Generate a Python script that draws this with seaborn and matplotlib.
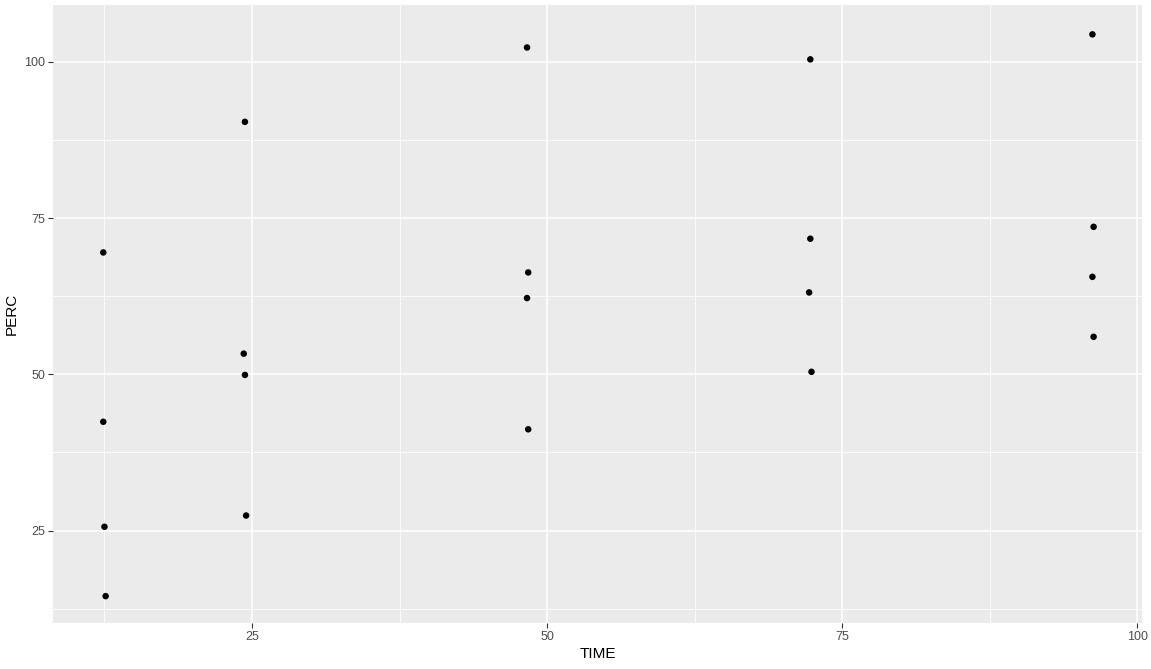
import numpy as np
import pandas as pd
import matplotlib
matplotlib.use("Agg")
import matplotlib.pyplot as plt
import seaborn as sns
from matplotlib.ticker import MultipleLocator

# values
time = [12.4, 12.4, 12.5, 12.6,
        24.4, 24.3, 24.4, 24.5,
        48.3, 48.4, 48.3, 48.4,
        72.3, 72.3, 72.2, 72.4,
        96.2, 96.3, 96.2, 96.3]
perc = [69.5, 42.4, 25.6, 14.5,
        90.4, 53.3, 49.9, 27.4,
        102.3, 66.3, 62.2, 41.2,
        100.4, 71.7, 63.1, 50.4,
        104.4, 73.6, 65.6, 56.0]

df = pd.DataFrame({"TIME": time, "PERC": perc})

sns.set_theme(style="darkgrid", rc={
    "axes.facecolor": "#EBEBEB",
    "grid.color": "white",
    "axes.edgecolor": "#EBEBEB",
})
plt.rcParams["font.family"] = ["Liberation Sans", "DejaVu Sans"]

fig = plt.figure(figsize=(11.51, 6.69), dpi=100)
ax = fig.add_axes([53 / 1151, (669 - 623) / 669, (1142 - 53) / 1151, (623 - 5) / 669])

sns.scatterplot(data=df, x="TIME", y="PERC", color="black", s=22,
                edgecolor="none", ax=ax, zorder=3)

ax.set_xlim(8.14, 100.4)
ax.set_ylim(10.2, 109.1)
ax.xaxis.set_major_locator(MultipleLocator(25))
ax.yaxis.set_major_locator(MultipleLocator(25))
ax.xaxis.set_minor_locator(MultipleLocator(12.5))
ax.yaxis.set_minor_locator(MultipleLocator(12.5))
ax.grid(which="major", color="white", linewidth=1.1)
ax.grid(which="minor", color="white", linewidth=0.55)
for s in ax.spines.values():
    s.set_visible(False)

ax.tick_params(axis="both", which="major", length=3.5, width=0.8, color="#333333",
               labelcolor="#4D4D4D", labelsize=9, pad=2, bottom=True, left=True)
ax.tick_params(axis="both", which="minor", length=0)
ax.set_xlabel("TIME", fontsize=11, color="black", labelpad=3)
ax.set_ylabel("PERC", fontsize=11, color="black", labelpad=4)

fig.savefig("out.png", dpi=100, facecolor="white")
